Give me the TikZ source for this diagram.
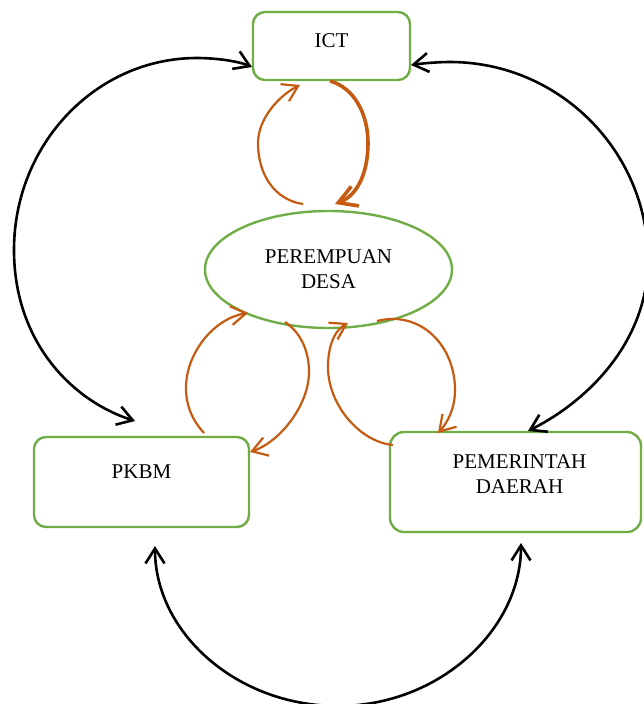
\documentclass[tikz,border=0pt]{standalone}
\usepackage{fontspec}
\setmainfont{Liberation Serif}
\usetikzlibrary{arrows.meta,shapes.geometric}
\definecolor{grn}{HTML}{70AD47}
\definecolor{org}{HTML}{C55A11}
\tikzset{
  myb/.tip={Straight Barb[length=15pt,width=19pt]},
  mybthick/.tip={Straight Barb[length=18pt,width=21pt]},
  box/.style={draw=grn, line width=2.4pt, rounded corners=12pt, inner sep=0pt, outer sep=0pt},
  oval/.style={draw=grn, line width=2.4pt, ellipse, inner sep=0pt, outer sep=0pt, align=center,
    minimum width=247pt, minimum height=117pt},
  lbl/.style={inner sep=0pt, outer sep=0pt, align=center},
  blk/.style={draw=black, line width=2.6pt},
  orng/.style={draw=org, line width=2.2pt},
  orngthick/.style={draw=org, line width=3.6pt},
}
\begin{document}
\begin{tikzpicture}[x=1pt,y=-1pt,font=\fontsize{21}{25}\selectfont]
\useasboundingbox (0,0) rectangle (643,704);
% boxes
\node[box, minimum width=157pt, minimum height=68pt] (ict) at (331.5,46) {};
\node[lbl, anchor=base] (ictT) at (331.5,47) {ICT};
\node[oval] (desa) at (328.5,269.5) {PEREMPUAN\\DESA};
\node[box, minimum width=215pt, minimum height=90pt] (pkbm) at (141.5,482) {};
\node[lbl, anchor=base] (pkbmT) at (141.5,478) {PKBM};
\node[box, rounded corners=14pt, minimum width=251pt, minimum height=100pt] (pemda) at (515.5,482) {};
\node[lbl] (pemdaT) at (519.5,474) {PEMERINTAH\\DAERAH};
% coordinates for free ends
\coordinate (lA) at (252,67);
\coordinate (lE) at (135,421);
\coordinate (rA) at (411,65);
\coordinate (rE) at (528,431);
\coordinate (bA) at (155,546);
\coordinate (bE) at (521,543);
% black arcs
\draw[blk, {myb}-{myb}] (lA) .. controls (238,61) and (215,58) .. (197,58)
   .. controls (96,58) and (14,144) .. (14,250)
   .. controls (14,340) and (70,400) .. (lE);
\draw[blk, {myb}-{myb}] (rA) .. controls (425,63) and (440,62) .. (450,62)
   .. controls (559,62) and (648,151) .. (648,260)
   .. controls (648,340) and (590,400) .. (rE);
\draw[blk, {myb}-{myb}] (bA) .. controls (155,633) and (237,706) .. (338,706)
   .. controls (439,706) and (521,630) .. (bE);
% orange loops
\coordinate (a0) at (303,204); \coordinate (a1) at (300,85);
\draw[orng, -{myb}] (a0) .. controls (275,200) and (258,175) .. (258,143)
   .. controls (258,118) and (280,95) .. (a1);
\coordinate (b0) at (330,81); \coordinate (b1) at (335,204);
\draw[orngthick, -{mybthick}] (b0) .. controls (355,88) and (368,115) .. (368,143)
   .. controls (368,172) and (358,195) .. (b1);
\coordinate (c0) at (204,433); \coordinate (c1) at (248,313);
\draw[orng, -{myb}] (c0) .. controls (192,420) and (186,405) .. (186,388)
   .. controls (186,352) and (215,318) .. (c1);
\coordinate (d0) at (285,322); \coordinate (d1) at (250,452);
\draw[orng, -{myb}] (d0) .. controls (300,332) and (309,350) .. (309,372)
   .. controls (309,405) and (280,442) .. (d1);
\coordinate (e0) at (393,445); \coordinate (e1) at (348,323);
\draw[orng, -{myb}] (e0) .. controls (360,442) and (328,405) .. (328,367)
   .. controls (328,345) and (335,330) .. (e1);
\coordinate (f0) at (377,321); \coordinate (f1) at (438,433);
\draw[orng, -{myb}] (f0) .. controls (420,310) and (455,345) .. (455,390)
   .. controls (455,408) and (448,422) .. (f1);
\end{tikzpicture}
\end{document}
